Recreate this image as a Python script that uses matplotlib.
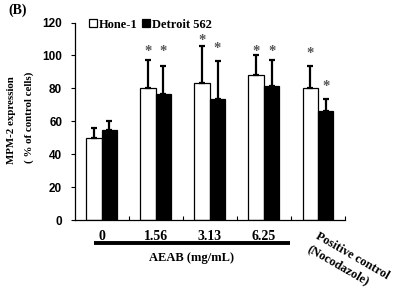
import numpy as np
import matplotlib
matplotlib.use("Agg")
from matplotlib import pyplot as plt
from matplotlib.patches import Patch
import matplotlib.transforms as mtransforms

# data
groups = ['0', '1.56', '3.13', '6.25', 'Positive control\n(Nocodazole)']
hone_mean = [50, 80, 83.5, 88, 80.5]
hone_sd = [6, 17, 22, 12, 13]
detroit_mean = [55, 76.5, 73.5, 81.5, 66.5]
detroit_sd = [5, 17, 23, 15.5, 7]
# height of the significance stars (None = no star)
hone_star = [None, 105, 111.5, 105, 103.5]
detroit_star = [None, 105, 106.5, 105, 83.5]

serif = ['Liberation Serif', 'DejaVu Serif']
sans = ['Liberation Sans', 'DejaVu Sans']

fig = plt.figure(figsize=(3.97, 2.97), dpi=100)
ax = fig.add_axes([0.188, 0.259, 0.681, 0.665])

x = np.arange(len(groups))
w = 0.285
ax.bar(x - w/2, hone_mean, w, color='white', edgecolor='black', linewidth=0.9,
       yerr=[np.zeros(len(x)), hone_sd], error_kw=dict(ecolor='black', elinewidth=1.6, capsize=2.4, capthick=1.6))
ax.bar(x + w/2, detroit_mean, w, color='black', edgecolor='black', linewidth=0.9,
       yerr=[np.zeros(len(x)), detroit_sd], error_kw=dict(ecolor='black', elinewidth=1.6, capsize=2.4, capthick=1.6))

# the '*' glyph sits high in its box, so nudge it down a little
star_tr = ax.transData + mtransforms.ScaledTranslation(0, -3/72, fig.dpi_scale_trans)
for i in range(len(x)):
    if hone_star[i] is not None:
        ax.text(x[i] - w/2, hone_star[i], '*', ha='center', va='center', color='#555555',
                fontsize=10.5, family=serif, fontweight='bold', transform=star_tr)
    if detroit_star[i] is not None:
        ax.text(x[i] + w/2, detroit_star[i], '*', ha='center', va='center', color='#555555',
                fontsize=10.5, family=serif, fontweight='bold', transform=star_tr)

ax.set_xlim(-0.5, 4.5)
ax.set_ylim(0, 120)
ax.set_yticks(np.arange(0, 121, 20))
for t in ax.get_yticklabels():
    t.set_family(sans)
    t.set_fontweight('bold')
    t.set_fontsize(8.5)
ax.tick_params(axis='y', direction='out', length=3, width=0.8, pad=6)

ax.set_xticks(x[:4])
ax.set_xticklabels(groups[:4], family=serif, fontweight='bold', fontsize=10)
ax.tick_params(axis='x', which='major', length=0, pad=7)
ax.set_xticks(np.arange(0.5, 4.6, 1), minor=True)
ax.tick_params(axis='x', which='minor', direction='in', length=3, width=0.8)

ax.spines['top'].set_visible(False)
ax.spines['right'].set_visible(False)
ax.spines['left'].set_linewidth(0.9)
ax.spines['bottom'].set_linewidth(0.9)

trans = mtransforms.blended_transform_factory(ax.transData, ax.transAxes)
ax.plot([-0.15, 3.49], [-0.117, -0.117], color='black', lw=2.8, transform=trans,
        clip_on=False, solid_capstyle='butt')
ax.text(1.67, -0.19, 'AEAB (mg/mL)', transform=trans, ha='center', va='center',
        family=serif, fontweight='bold', fontsize=9)
ax.text(4.02, -0.05, groups[4], transform=trans, ha='left', va='top', rotation=-30,
        rotation_mode='anchor', family=serif, fontweight='bold', fontsize=9, linespacing=1.3)

handles = [Patch(facecolor='white', edgecolor='black', linewidth=0.9),
           Patch(facecolor='black', edgecolor='black', linewidth=0.9)]
ax.legend(handles, ['Hone-1', 'Detroit 562'], ncol=2, frameon=False,
          loc='upper left', bbox_to_anchor=(0.035, 1.045), handlelength=0.6, handleheight=0.6,
          handletextpad=0.15, columnspacing=0.4, borderaxespad=0,
          prop=dict(family=serif, weight='bold', size=9))

fig.text(0.03, 0.595, 'MPM-2 expression', rotation=90, ha='center', va='center',
         family=serif, fontweight='bold', fontsize=7.8)
fig.text(0.073, 0.605, '( % of control cells)', rotation=90, ha='center', va='center',
         family=serif, fontweight='bold', fontsize=7.8)
fig.text(0.02, 0.965, '(B)', ha='left', va='center', family=serif, fontweight='bold', fontsize=10)

fig.savefig('out.png', dpi=100)
